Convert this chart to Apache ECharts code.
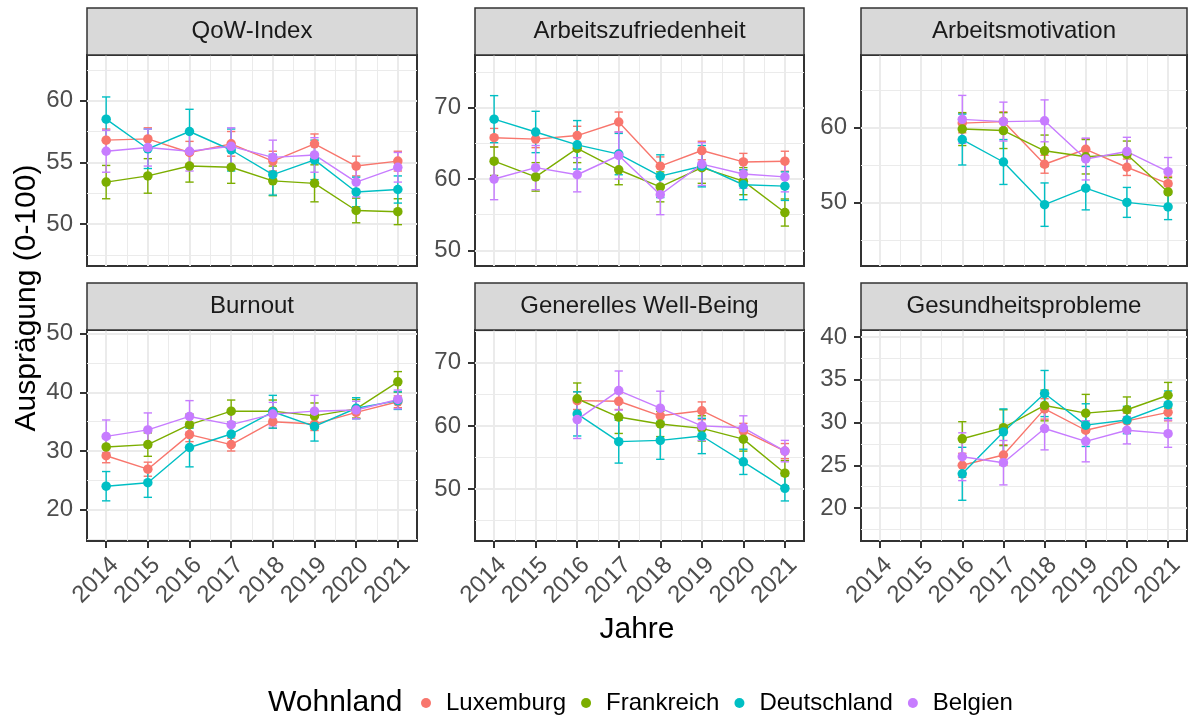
<!DOCTYPE html>
<html>
<head>
<meta charset="utf-8">
<script src="https://cdn.jsdelivr.net/npm/echarts@6/dist/echarts.min.js"></script>
<style>
  html, body { margin: 0; padding: 0; background: #fff; }
  #chart { width: 1190px; height: 720px; }
</style>
</head>
<body>
<div id="chart"></div>
<script>
// ---- data ----
const years = [2014, 2015, 2016, 2017, 2018, 2019, 2020, 2021];
const countries = ['Luxemburg', 'Frankreich', 'Deutschland', 'Belgien'];
const panelTitles = ['QoW-Index', 'Arbeitszufriedenheit', 'Arbeitsmotivation',
  'Burnout', 'Generelles Well-Being', 'Gesundheitsprobleme'];

// rows: Luxemburg, Frankreich, Deutschland, Belgien
const qowIndex = [
  [56.8, 56.9, 55.8, 56.5, 55.1, 56.5, 54.7, 55.1],
  [53.4, 53.9, 54.7, 54.6, 53.5, 53.3, 51.1, 51.0],
  [58.5, 56.1, 57.5, 56.0, 54.0, 55.2, 52.6, 52.8],
  [55.9, 56.2, 55.9, 56.3, 55.4, 55.6, 53.4, 54.6]
];
const qowIndexErr = [
  [0.9, 0.9, 0.9, 1.0, 0.8, 0.8, 0.8, 0.8],
  [1.35, 1.4, 1.3, 1.3, 1.2, 1.5, 1.0, 1.05],
  [1.8, 1.6, 1.8, 1.7, 1.65, 1.6, 1.2, 1.1],
  [1.7, 1.5, 1.6, 1.5, 1.4, 1.4, 1.2, 1.2]
];
const zufriedenheit = [
  [65.8, 65.6, 66.1, 68.0, 61.8, 64.0, 62.4, 62.5],
  [62.5, 60.3, 64.3, 61.3, 58.9, 61.6, 59.7, 55.3],
  [68.4, 66.6, 64.8, 63.5, 60.4, 61.8, 59.2, 59.0],
  [60.0, 61.6, 60.6, 63.3, 57.8, 62.1, 60.7, 60.3]
];
const zufriedenheitErr = [
  [1.3, 1.2, 1.3, 1.4, 1.3, 1.3, 1.2, 1.4],
  [2.0, 2.0, 2.0, 2.1, 2.1, 2.2, 1.9, 1.9],
  [3.3, 2.9, 3.4, 2.9, 3.0, 2.9, 2.1, 2.0],
  [2.9, 3.1, 2.4, 3.3, 2.8, 3.0, 2.0, 2.1]
];
const motivation = [
  [null, null, 60.6, 60.8, 55.1, 57.1, 54.7, 52.5],
  [null, null, 59.8, 59.6, 56.9, 56.1, 56.4, 51.4],
  [null, null, 58.4, 55.4, 49.7, 51.9, 50.0, 49.4],
  [null, null, 61.1, 60.8, 60.9, 55.8, 56.8, 54.1]
];
const motivationErr = [
  [null, null, 1.3, 1.3, 1.2, 1.4, 1.1, 1.0],
  [null, null, 2.2, 2.4, 2.1, 2.3, 1.8, 1.9],
  [null, null, 3.4, 3.0, 2.9, 2.9, 2.0, 1.7],
  [null, null, 3.2, 2.6, 2.8, 2.8, 1.9, 1.9]
];
const burnout = [
  [29.2, 26.9, 32.8, 31.1, 35.0, 34.6, 36.6, 38.4],
  [30.7, 31.1, 34.5, 36.8, 36.8, 36.0, 37.2, 41.8],
  [24.0, 24.6, 30.6, 32.9, 36.7, 34.2, 37.3, 38.6],
  [32.5, 33.6, 35.9, 34.5, 36.3, 36.8, 37.0, 38.8]
];
const burnoutErr = [
  [1.2, 1.2, 1.2, 1.1, 1.1, 1.1, 1.0, 1.0],
  [1.5, 2.0, 1.8, 1.9, 1.9, 2.2, 1.6, 1.75],
  [2.5, 2.5, 3.3, 2.0, 2.8, 2.5, 1.8, 1.5],
  [2.8, 2.9, 2.7, 2.0, 2.0, 2.7, 1.5, 1.6]
];
const wellBeing = [
  [null, null, 64.0, 63.9, 61.6, 62.4, 59.2, 56.0],
  [null, null, 64.3, 61.4, 60.3, 59.6, 57.9, 52.5],
  [null, null, 61.9, 57.5, 57.7, 58.4, 54.3, 50.1],
  [null, null, 61.0, 65.6, 62.8, 60.0, 59.7, 56.0]
];
const wellBeingErr = [
  [null, null, 1.4, 1.3, 1.3, 1.4, 1.2, 1.2],
  [null, null, 2.5, 2.6, 2.0, 2.0, 1.9, 2.0],
  [null, null, 3.5, 3.4, 3.0, 2.8, 2.0, 2.0],
  [null, null, 3.0, 3.1, 2.7, 2.3, 1.9, 1.7]
];
const gesundheit = [
  [null, null, 25.0, 26.2, 31.6, 29.1, 30.2, 31.2],
  [null, null, 28.1, 29.4, 32.0, 31.1, 31.5, 33.2],
  [null, null, 24.0, 28.9, 33.4, 29.7, 30.3, 32.1],
  [null, null, 26.0, 25.3, 29.3, 27.8, 29.1, 28.7]
];
const gesundheitErr = [
  [null, null, 1.4, 1.2, 1.2, 1.1, 0.9, 1.0],
  [null, null, 2.0, 2.1, 1.8, 2.2, 1.5, 1.5],
  [null, null, 3.1, 2.7, 2.7, 2.5, 1.6, 1.6],
  [null, null, 2.8, 2.6, 2.5, 2.4, 1.6, 1.6]
];

// tick labels per panel
const yTicks = [
  [50, 55, 60], [50, 60, 70], [50, 60],
  [20, 30, 40, 50], [50, 60, 70], [20, 25, 30, 35, 40]
];

// ---- layout / style ----
const panelData = [qowIndex, zufriedenheit, motivation, burnout, wellBeing, gesundheit];
const panelErr = [qowIndexErr, zufriedenheitErr, motivationErr, burnoutErr, wellBeingErr, gesundheitErr];
const yRange = [[46.6, 63.7], [47.8, 77.4], [41.5, 69.7], [14.65, 50.65], [41.75, 75.2], [16.13, 40.84]];
const yStep = [5, 10, 10, 10, 10, 5];
const xRange = [2013.54, 2021.46];
const colors = ['#F8766D', '#7CAE00', '#00BFC4', '#C77CFF'];
const colLeft = [87, 475, 861];
const colWidth = [330, 329, 326];
const rowTop = [55, 330];
const rowHeight = 211;
const stripH = 47;
const font = "'Liberation Sans', Arial, sans-serif";

const chart = echarts.init(document.getElementById('chart'));

const grids = [], xAxes = [], yAxes = [], series = [], graphics = [];

panelTitles.forEach((title, p) => {
  const row = Math.floor(p / 3), col = p % 3;
  const bottom = row === 1;
  grids.push({
    left: colLeft[col], top: rowTop[row], width: colWidth[col], height: rowHeight,
    show: true, borderColor: '#333333', borderWidth: 2, backgroundColor: '#fff'
  });
  xAxes.push({
    gridIndex: p, type: 'value', min: xRange[0], max: xRange[1],
    minInterval: 1, maxInterval: 1,
    axisLine: {show: false},
    axisTick: {show: bottom, customValues: years, length: 7, lineStyle: {color: '#333333', width: 2}},
    axisLabel: {
      show: bottom, customValues: years, rotate: 45, margin: 12, verticalAlign: 'top',
      formatter: v => String(v), fontSize: 24, color: '#4D4D4D', fontFamily: font
    },
    splitLine: {show: true, lineStyle: {color: '#EBEBEB', width: 2}},
    minorTick: {show: false, splitNumber: 2},
    minorSplitLine: {show: true, lineStyle: {color: '#EBEBEB', width: 1}}
  });
  yAxes.push({
    gridIndex: p, type: 'value', min: yRange[p][0], max: yRange[p][1],
    minInterval: yStep[p], maxInterval: yStep[p],
    axisLine: {show: false},
    axisTick: {show: true, customValues: yTicks[p], length: 7, lineStyle: {color: '#333333', width: 2}},
    axisLabel: {customValues: yTicks[p], margin: 14, fontSize: 24, color: '#4D4D4D', fontFamily: font},
    splitLine: {show: true, lineStyle: {color: '#EBEBEB', width: 2}},
    minorTick: {show: false, splitNumber: 2},
    minorSplitLine: {show: true, lineStyle: {color: '#EBEBEB', width: 1}}
  });

  countries.forEach((name, c) => {
    const vals = panelData[p][c], errs = panelErr[p][c];
    const pts = years.map((y, i) => [y, vals[i]]);
    const bars = years.map((y, i) => vals[i] == null ? null : [y, vals[i] - errs[i], vals[i] + errs[i]])
      .filter(d => d);
    series.push({
      type: 'custom', name: name, xAxisIndex: p, yAxisIndex: p, z: 1,
      itemStyle: {color: colors[c]},
      encode: {x: 0, y: [1, 2]},
      data: bars,
      renderItem: (params, api) => {
        const x = api.value(0);
        const lo = api.coord([x, api.value(1)]);
        const hi = api.coord([x, api.value(2)]);
        const cap = api.size([0.2, 0])[0] / 2;
        const st = {stroke: colors[c], lineWidth: 1.4};
        return {
          type: 'group', children: [
            {type: 'line', shape: {x1: lo[0], y1: lo[1], x2: hi[0], y2: hi[1]}, style: st},
            {type: 'line', shape: {x1: lo[0] - cap, y1: lo[1], x2: lo[0] + cap, y2: lo[1]}, style: st},
            {type: 'line', shape: {x1: hi[0] - cap, y1: hi[1], x2: hi[0] + cap, y2: hi[1]}, style: st}
          ]
        };
      }
    });
    series.push({
      type: 'line', name: name, xAxisIndex: p, yAxisIndex: p, z: 2,
      showSymbol: false, connectNulls: false, silent: true,
      lineStyle: {color: colors[c], width: 1.4},
      itemStyle: {color: colors[c]},
      data: pts
    });
    series.push({
      type: 'scatter', name: name, xAxisIndex: p, yAxisIndex: p, z: 3,
      symbol: 'circle', symbolSize: 9.5, silent: true,
      itemStyle: {color: colors[c], opacity: 1},
      data: pts.filter(d => d[1] != null)
    });
  });

  // facet strip
  graphics.push({
    type: 'rect', z: 10,
    shape: {x: colLeft[col], y: rowTop[row] - stripH, width: colWidth[col], height: stripH},
    style: {fill: '#D9D9D9', stroke: '#333333', lineWidth: 1.5}
  });
  graphics.push({
    type: 'text', z: 11,
    x: colLeft[col] + colWidth[col] / 2, y: rowTop[row] - stripH / 2,
    style: {text: title, fontSize: 24, fontFamily: font, fill: '#1A1A1A',
      textAlign: 'center', textVerticalAlign: 'middle'}
  });
});

graphics.push({
  type: 'text', x: 637, y: 630,
  style: {text: 'Jahre', fontSize: 30, fontFamily: font, fill: '#000',
    textAlign: 'center', textVerticalAlign: 'middle'}
});
graphics.push({
  type: 'text', x: 27, y: 298, rotation: Math.PI / 2,
  style: {text: 'Ausprägung (0-100)', fontSize: 30, fontFamily: font, fill: '#000',
    textAlign: 'center', textVerticalAlign: 'middle'}
});
graphics.push({
  type: 'text', x: 268, y: 703,
  style: {text: 'Wohnland', fontSize: 30, fontFamily: font, fill: '#000',
    textAlign: 'left', textVerticalAlign: 'middle'}
});

const option = {
  animation: false,
  backgroundColor: '#fff',
  grid: grids,
  xAxis: xAxes,
  yAxis: yAxes,
  legend: {
    data: countries.map((n, i) => ({name: n, itemStyle: {color: colors[i]}})),
    left: 421, top: 691, padding: 0,
    icon: 'circle', itemWidth: 30, itemHeight: 10, itemGap: 15,
    selectedMode: false,
    textStyle: {fontSize: 24, color: '#000', fontFamily: font}
  },
  graphic: graphics,
  series: series
};
chart.setOption(option);
</script>
</body>
</html>
